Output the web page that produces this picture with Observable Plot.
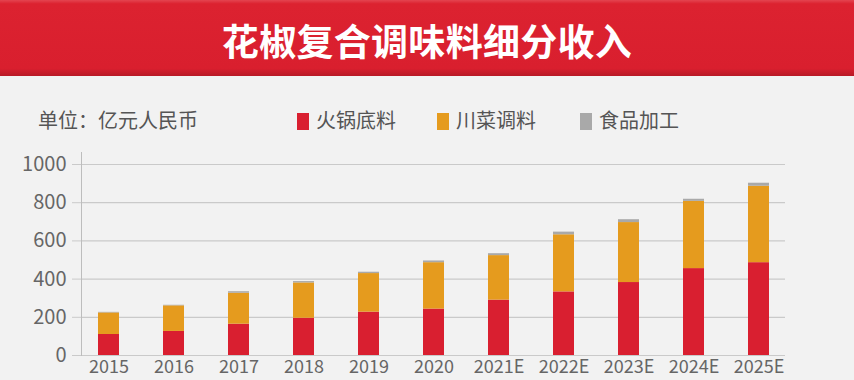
<!DOCTYPE html>
<html>
<head>
<meta charset="utf-8">
<script src="https://cdn.jsdelivr.net/npm/d3@7"></script>
<script src="https://cdn.jsdelivr.net/npm/@observablehq/plot@0.6"></script>
<style>
  html, body { margin: 0; padding: 0; background: #f2f2f2; width: 854px; height: 380px; overflow: hidden; }
  #wrap { position: relative; width: 854px; height: 380px; font-family: "Noto Sans CJK SC", "Noto Sans", sans-serif; }
  #banner { position: absolute; left: 0; top: 0; width: 854px; height: 76px;
    background: linear-gradient(#e44450 0%, #dc2230 5%, #d91f2e 90%, #b81a26 100%);
    color: #fff; font-weight: bold; font-size: 37px; text-align: center; line-height: 80px; letter-spacing: 0.3px; }
  #legend { position: absolute; left: 0; top: 104px; width: 854px; height: 30px; font-size: 20px; color: #555; }
  #legend span.unit { position: absolute; left: 38px; top: 1px; }
  #legend .item { position: absolute; top: 1px; white-space: nowrap; }
  #legend .sw { display: inline-block; width: 12px; height: 17px; vertical-align: -2px; margin-right: 7px; }
  #chart { position: absolute; left: 0; top: 140px; }
</style>
</head>
<body>
<div id="wrap">
  <div id="banner">花椒复合调味料细分收入</div>
  <div id="legend"></div>
  <div id="chart"></div>
</div>
<script>
const title = "花椒复合调味料细分收入";
const unitLabel = "单位：亿元人民币";
const years = ["2015","2016","2017","2018","2019","2020","2021E","2022E","2023E","2024E","2025E"];
const seriesNames = ["火锅底料","川菜调料","食品加工"];
const seriesColors = ["#d91f30","#e59b1e","#a9a9a9"];
const hotpot  = [110,126,164,195,227,243,290,333,382,455,486];
const sichuan = [113,134,162,185,202,243,233,299,314,352,400];
const food    = [3,3,8,7,7,9,10,14,15,11,16];
const yTicks = [0,200,400,600,800,1000];

const seriesValues = [hotpot, sichuan, food];
const data = [];
years.forEach((y, i) => {
  seriesNames.forEach((s, j) => data.push({year: y, series: s, value: seriesValues[j][i]}));
});

// legend
const legend = document.getElementById("legend");
const unit = document.createElement("span");
unit.className = "unit";
unit.textContent = unitLabel;
legend.appendChild(unit);
const legendX = [297, 437, 580];
seriesNames.forEach((s, j) => {
  const it = document.createElement("span");
  it.className = "item";
  it.style.left = legendX[j] + "px";
  const sw = document.createElement("span");
  sw.className = "sw";
  sw.style.background = seriesColors[j];
  it.appendChild(sw);
  it.appendChild(document.createTextNode(s));
  legend.appendChild(it);
});

const chart = Plot.plot({
  width: 854,
  height: 240,
  marginLeft: 81,
  marginRight: 69,
  marginTop: 12,
  marginBottom: 25,
  style: {background: "transparent", fontFamily: "'Noto Sans CJK SC', 'Noto Sans', sans-serif", fontSize: "20px", color: "#666"},
  x: {domain: years, paddingInner: 0.68, paddingOuter: 0.243, label: null},
  y: {domain: [0, 1000], range: [215, 24], label: null},
  color: {domain: seriesNames, range: seriesColors},
  marks: [
    Plot.gridY(yTicks, {stroke: "#cacaca", strokeOpacity: 1, strokeWidth: 1.2}),
    Plot.axisY(yTicks, {tickSize: 9, tickPadding: 6, stroke: "#cacaca", fill: "#666", label: null, fontSize: 20, tickFormat: d => String(d)}),
    Plot.frame({anchor: "left", stroke: "#bdbdbd"}),
    Plot.barY(data, {x: "year", y: "value", fill: "series"}),
    Plot.axisX({tickSize: 0, tickPadding: 5, fill: "#666", label: null, fontSize: 18})
  ]
});
document.getElementById("chart").appendChild(chart);
</script>
</body>
</html>
